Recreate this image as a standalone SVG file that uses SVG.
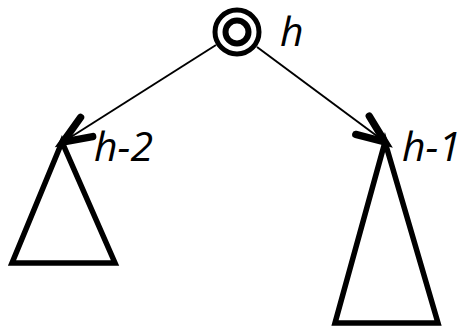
<svg xmlns="http://www.w3.org/2000/svg" width="468" height="327" viewBox="0 0 468 327">
<style>
.ring{fill:none;stroke:#000}
.tri{fill:none;stroke:#000;stroke-width:5.5;stroke-linejoin:miter;stroke-miterlimit:10}
.edge{fill:none;stroke:#000;stroke-width:2}
.lbl{font-family:"Open Sans","Noto Sans",sans-serif;font-style:italic;font-size:41px;fill:#000}
</style>
<defs>
<marker id="arr" markerUnits="userSpaceOnUse" markerWidth="40" markerHeight="40" refX="0" refY="0" viewBox="-25 -15 30 30" orient="auto" overflow="visible">
<path d="M-21,-8.5 L0,0 L-21,8.5" fill="none" stroke="#000" stroke-width="5.5" stroke-linecap="round" stroke-linejoin="miter"/>
</marker>
</defs>
<g id="edges">
<line class="edge" x1="216" y1="45" x2="63" y2="142" marker-end="url(#arr)"/>
<line class="edge" x1="257" y1="47" x2="385" y2="142" marker-end="url(#arr)"/>
</g>
<g id="root">
<circle class="ring" cx="237" cy="32" r="22" stroke-width="5"/>
<circle class="ring" cx="237" cy="32" r="11.5" stroke-width="6"/>
<text class="lbl" x="280" y="46">h</text>
</g>
<g id="left">
<polygon class="tri" points="62,142 12,263 115,263"/>
<text class="lbl" x="94" y="161">h-2</text>
</g>
<g id="right">
<polygon class="tri" points="385,142 335,323 438,323"/>
<text class="lbl" x="402" y="161">h-1</text>
</g>
</svg>
